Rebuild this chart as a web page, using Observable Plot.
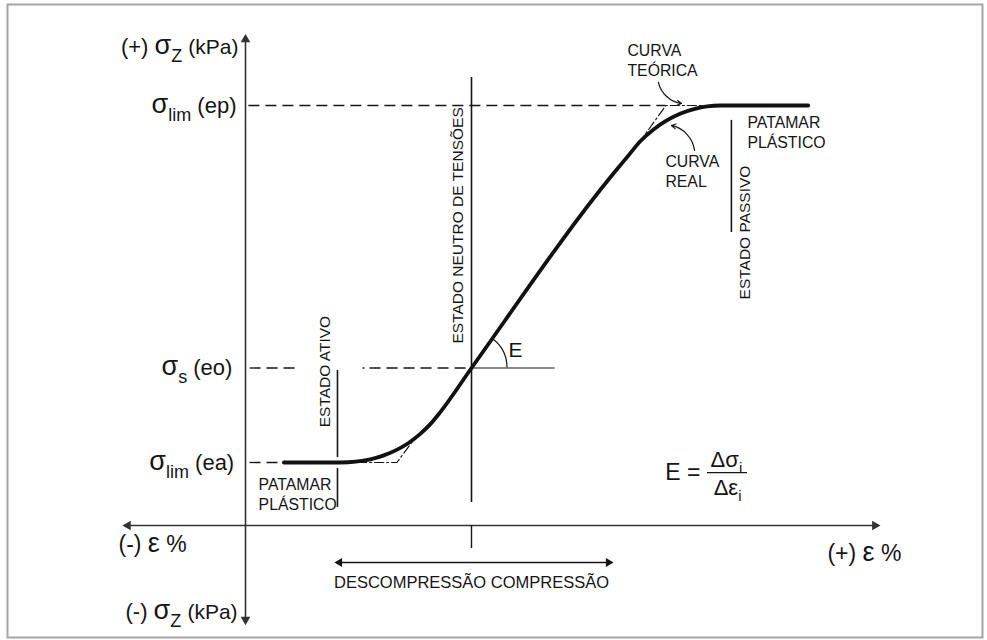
<!DOCTYPE html>
<html><head><meta charset="utf-8">
<script src="https://cdn.jsdelivr.net/npm/d3@7"></script>
<script src="https://cdn.jsdelivr.net/npm/@observablehq/plot@0.6"></script>
<style>body{margin:0;background:#fff} svg{display:block}</style>
</head><body><div id="chart"></div>
<script>
// ---- stress levels (σ, schematic kPa units) ----
const stressNames  = ["σ_{lim} (ea)", "σ_{s} (eo)", "σ_{lim} (ep)"];
const stressValues = [30, 75, 200];
const epsNeutral = 10;                 // ε at neutral state (eo)

// ---- real (curva real) stress-strain curve ----
const realEps   = [1.7, 4.2, 4.88, 5.52, 6.12, 6.69, 7.23, 7.72, 8.19, 8.62, 10, 16.28, 16.89, 17.48, 18.07, 18.66, 19.25, 19.84, 20.43, 21.02, 21.6, 24.9];
const realSigma = [30, 30, 30.4, 31.5, 33.4, 36, 39.4, 43.5, 48.4, 54, 75, 167.6, 175.5, 183.1, 188.7, 193.0, 196.2, 198.3, 199.6, 200, 200, 200];

// ---- theoretical (curva teórica) bilinear corners ----
const theoLowEps    = [4.96, 6.7, 7.4];
const theoLowSigma  = [30, 30, 40.2];
const theoHighEps   = [17.4, 18.6, 20.6];
const theoHighSigma = [182, 200, 200];

// ---- axis extents ----
const epsAxis   = [-5.2, 27.85];
const sigmaAxis = [-44.8, 231.4];

const [sEa, sS, sEp] = stressValues;
const real = realEps.map((e, i) => ({e, s: realSigma[i]}));
const theoLow = theoLowEps.map((e, i) => ({e, s: theoLowSigma[i]}));
const theoHigh = theoHighEps.map((e, i) => ({e, s: theoHighSigma[i]}));

const F = "'Liberation Sans', Arial, Helvetica, sans-serif";
const INK = "#151515";
const dash = "11,6";
const dashDot = "9,3,2,3";

const arcMark = (index, scales) => {
  const cx = scales.x(epsNeutral), cy = scales.y(sS);
  const i = realEps.indexOf(epsNeutral);
  const ang = Math.atan2(scales.y(realSigma[i]) - scales.y(realSigma[i + 1]), scales.x(realEps[i + 1]) - scales.x(realEps[i]));
  const r = 36;
  const g = d3.create("svg:g");
  g.append("path")
    .attr("d", `M${cx + r},${cy}A${r},${r} 0 0 0 ${cx + r * Math.cos(ang)},${cy - r * Math.sin(ang)}`)
    .attr("fill", "none").attr("stroke", INK).attr("stroke-width", 1.2);
  return g.node();
};

const plot = Plot.plot({
  width: 987, height: 640, margin: 0,
  x: {domain: [-245 / 22.6, 742 / 22.6], axis: null},
  y: {domain: [-115 / 2.1, 525 / 2.1], axis: null},
  style: {fontFamily: F, background: "white", color: INK},
  marks: [
    Plot.frame({stroke: "#a5a5a5", strokeWidth: 2, insetLeft: 7, insetTop: 4, insetRight: 5, insetBottom: 3}),
    // axes
    Plot.ruleX([0], {y1: sigmaAxis[0], y2: sigmaAxis[1], stroke: "#333", strokeWidth: 1.6}),
    Plot.ruleY([0], {x1: epsAxis[0], x2: epsAxis[1], stroke: "#333", strokeWidth: 1.6}),
    Plot.dot([[0, sigmaAxis[1], 0], [0, sigmaAxis[0], 180], [epsAxis[0], 0, 270], [epsAxis[1], 0, 90]],
      {x: d => d[0], y: d => d[1], rotate: d => d[2], symbol: "triangle", r: 3.6, fill: "#333", stroke: "none"}),
    // reference dashed lines
    Plot.ruleY([sEp], {x1: 0.15, x2: theoHighEps[1], stroke: INK, strokeWidth: 1.3, strokeDasharray: dash}),
    Plot.ruleY([sS], {x1: 0.2, x2: 2.45, stroke: INK, strokeWidth: 1.3, strokeDasharray: dash}),
    Plot.ruleY([sS], {x1: 5.2, x2: epsNeutral, stroke: INK, strokeWidth: 1.3, strokeDasharray: "2,5,11,6,11,6,11,6,11,6,11,6,11,6,11,6,11,6"}),
    Plot.ruleY([sEa], {x1: 0.2, x2: realEps[0], stroke: INK, strokeWidth: 1.3, strokeDasharray: dash}),
    // angle reference
    Plot.ruleY([sS], {x1: epsNeutral, x2: 13.7, stroke: INK, strokeWidth: 1.2}),
    arcMark,
    // state lines
    Plot.ruleX([epsNeutral], {y1: 11, y2: 213.3, stroke: INK, strokeWidth: 1.6}),
    Plot.ruleX([4.07], {y1: 32.4, y2: 73.8, stroke: INK, strokeWidth: 1.6}),
    Plot.ruleX([4.07], {y1: 8.6, y2: 27.1, stroke: INK, strokeWidth: 1.6}),
    Plot.ruleX([21.5], {y1: 139.5, y2: 192.9, stroke: INK, strokeWidth: 1.6}),
    // theoretical curve
    Plot.line(theoLow, {x: "e", y: "s", stroke: INK, strokeWidth: 1.2, strokeDasharray: dashDot}),
    Plot.line(theoHigh, {x: "e", y: "s", stroke: INK, strokeWidth: 1.2, strokeDasharray: dashDot}),
    // real curve
    Plot.line(real, {x: "e", y: "s", curve: "monotone-x", stroke: "#111", strokeWidth: 3.8}),
    // bottom neutral tick and compression arrow
    Plot.ruleX([epsNeutral], {y1: 0, y2: -11, stroke: INK, strokeWidth: 1.4}),
    Plot.ruleY([-17.6], {x1: 4.16, x2: 16.06, stroke: INK, strokeWidth: 1.4}),
    Plot.dot([[4.16, 270], [16.06, 90]], {x: d => d[0], y: -17.6, rotate: d => d[1], symbol: "triangle", r: 3.3, fill: INK, stroke: "none"}),
    Plot.text(["DESCOMPRESSÃO COMPRESSÃO"], {x: epsNeutral, y: -27.1, fontSize: 16.5, fill: INK}),
    // curve annotation arrows
    Plot.arrow([{x1: 18.27, y1: 211, x2: 19.29, y2: 201}, {x1: 19.87, y1: 178.6, x2: 18.85, y2: 190.5}],
      {x1: "x1", y1: "y1", x2: "x2", y2: "y2", bend: -35, headLength: 6, stroke: INK, strokeWidth: 1.2}),
    // state labels
    Plot.text(["ESTADO NEUTRO DE TENSÕES"], {x: 9.42, y: 142.9, rotate: -90, fontSize: 15.5, fill: INK}),
    Plot.text(["ESTADO ATIVO"], {x: 3.5, y: 73.3, rotate: -90, fontSize: 15.5, fill: INK}),
    Plot.text(["ESTADO PASSIVO"], {x: 22.12, y: 139.5, rotate: -90, fontSize: 15.5, fill: INK}),
    Plot.text(["PATAMAR\nPLÁSTICO"], {x: 0.58, y: 15.2, textAnchor: "start", lineHeight: 1.29, fontSize: 15.8, fill: INK}),
    Plot.text(["PATAMAR\nPLÁSTICO"], {x: 22.21, y: 187.6, textAnchor: "start", lineHeight: 1.29, fontSize: 15.8, fill: INK}),
    Plot.text(["CURVA\nTEÓRICA"], {x: 16.9, y: 221.9, textAnchor: "start", lineHeight: 1.29, fontSize: 15.8, fill: INK}),
    Plot.text(["CURVA\nREAL"], {x: 18.58, y: 169, textAnchor: "start", lineHeight: 1.29, fontSize: 15.8, fill: INK}),
    // stress level labels
    Plot.text(stressValues, {x: [-0.5, -0.58, -0.4], y: d => d, text: (d, i) => stressNames[i].replace("σ", "[27:σ]").replace(/\((e.)\)/, "[22:($1)]").replace("_{", "_{18:"), textAnchor: "end", fontSize: 22, fill: INK}),
    // axis labels
    Plot.text(["(+) [27:σ]_{18:Z} [21:(kPa)]"], {x: -0.31, y: 228, textAnchor: "end", fontSize: 22, fill: INK}),
    Plot.text(["(-) [27:σ]_{18:Z} [21:(kPa)]"], {x: -0.35, y: -41, textAnchor: "end", fontSize: 22, fill: INK}),
    Plot.text(["(-) [27:ε] %"], {x: -5.62, y: -9, textAnchor: "start", fontSize: 23, fill: INK}),
    Plot.text(["(+) [27:ε] %"], {x: 25.75, y: -13.3, textAnchor: "start", fontSize: 23, fill: INK}),
    // angle label and modulus formula
    Plot.text(["E"], {x: 11.95, y: 83.3, fontSize: 21, fill: INK}),
    Plot.text(["E ="], {x: 20.13, y: 25.2, textAnchor: "end", fontSize: 23, fill: INK}),
    Plot.text(["Δσ_{15:i}"], {x: 21.28, y: 31, fontSize: 22, fill: INK}),
    Plot.ruleY([25.2], {x1: 20.44, x2: 22.21, stroke: INK, strokeWidth: 1.2}),
    Plot.text(["Δε_{15:i}"], {x: 21.33, y: 18.1, fontSize: 22, fill: INK})
  ]
});

// rich text: [size:text] for sized runs, _{size:text} for subscripts
function richify(svg) {
  const NS = "http://www.w3.org/2000/svg";
  svg.querySelectorAll("text").forEach(t => {
    const s = t.textContent;
    if (!/\[\d+:|_\{/.test(s) || t.querySelector("tspan")) return;
    const re = /\[(\d+):([^\]]*)\]|_\{(?:(\d+):)?([^}]*)\}|([^\[_]+)/g;
    t.textContent = "";
    let m, shift = 0;
    while ((m = re.exec(s))) {
      const ts = document.createElementNS(NS, "tspan");
      let target = 0;
      if (m[1]) { ts.setAttribute("font-size", m[1]); ts.textContent = m[2]; }
      else if (m[4] !== undefined) {
        const sz = +(m[3] || 17);
        ts.setAttribute("font-size", sz); ts.textContent = m[4]; target = Math.round(sz * 0.42);
      } else ts.textContent = m[5];
      if (target !== shift) { ts.setAttribute("dy", target - shift); shift = target; }
      t.appendChild(ts);
    }
  });
}
richify(plot);
document.getElementById("chart").appendChild(plot);
</script>
</body></html>
